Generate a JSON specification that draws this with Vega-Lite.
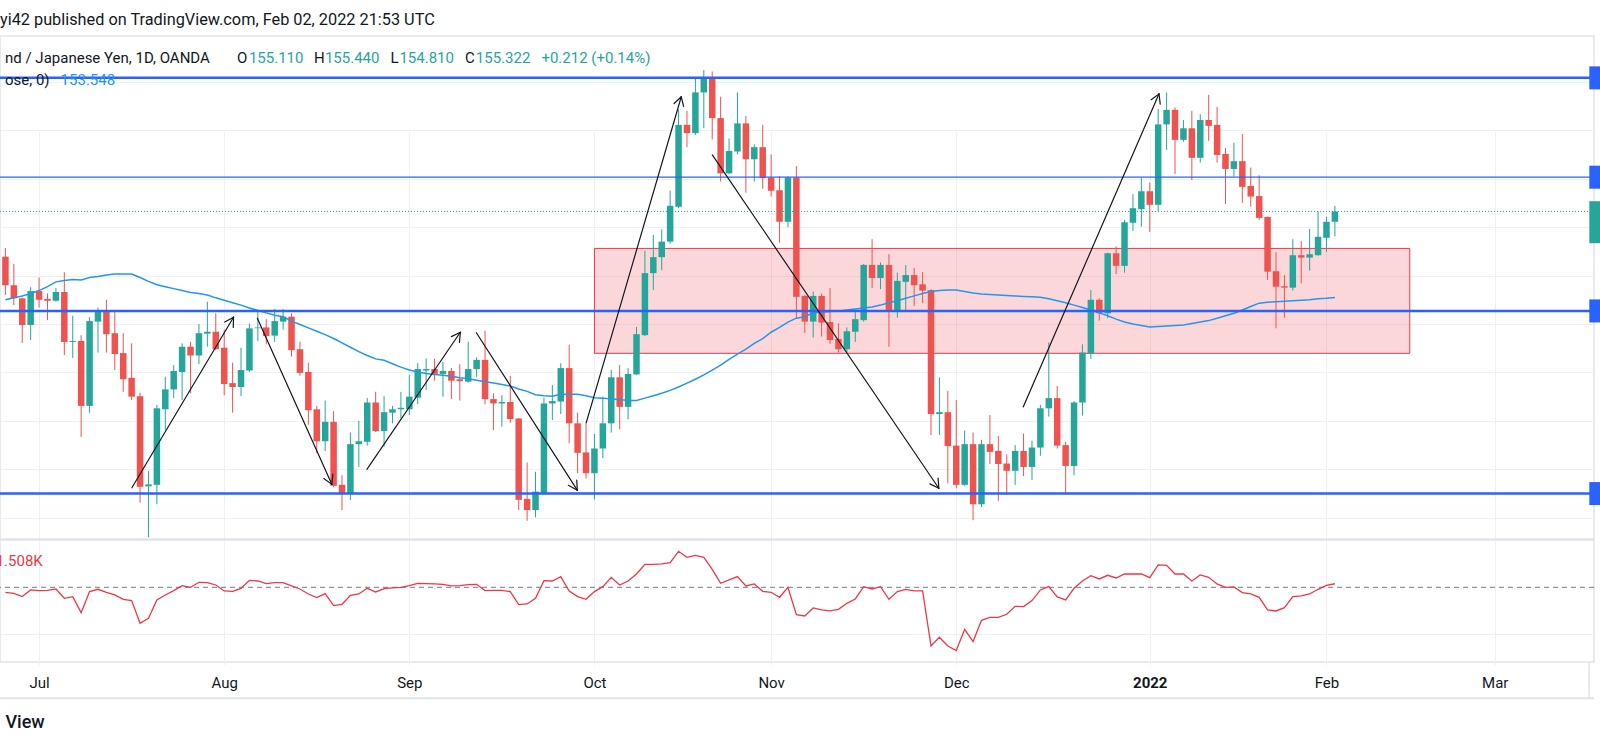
{
  "$schema": "https://vega.github.io/schema/vega-lite/v6.json",
  "width": 1594,
  "height": 626,
  "autosize": "none",
  "padding": {"left": 0, "top": 36, "right": 6, "bottom": 84},
  "background": "#ffffff",
  "title": {
    "text": "yi42 published on TradingView.com, Feb 02, 2022 21:53 UTC",
    "anchor": "start",
    "frame": "group",
    "offset": 0,
    "baseline": "middle",
    "font": "Roboto",
    "fontSize": 16.3,
    "fontWeight": "normal",
    "color": "#131722"
  },
  "datasets": {
    "candles": [
      {"i": -4, "o": 154.39, "h": 154.57, "l": 153.60, "c": 153.80, "ma": 153.50, "fi": -2.13},
      {"i": -3, "o": 153.80, "h": 154.24, "l": 153.39, "c": 153.53, "ma": 153.54, "fi": -2.55},
      {"i": -2, "o": 153.53, "h": 153.55, "l": 152.61, "c": 152.98, "ma": 153.58, "fi": -3.97},
      {"i": -1, "o": 152.98, "h": 153.76, "l": 152.67, "c": 153.68, "ma": 153.63, "fi": -1.13},
      {"i": 0, "o": 153.68, "h": 153.96, "l": 153.34, "c": 153.50, "ma": 153.69, "fi": -1.42},
      {"i": 1, "o": 153.52, "h": 153.63, "l": 153.08, "c": 153.48, "ma": 153.77, "fi": -1.28},
      {"i": 2, "o": 153.48, "h": 153.74, "l": 153.46, "c": 153.66, "ma": 153.87, "fi": -0.71},
      {"i": 3, "o": 153.66, "h": 154.07, "l": 152.36, "c": 152.63, "ma": 153.90, "fi": -4.68},
      {"i": 4, "o": 152.63, "h": 153.17, "l": 152.30, "c": 152.65, "ma": 153.92, "fi": -3.97},
      {"i": 5, "o": 152.65, "h": 152.77, "l": 150.67, "c": 151.31, "ma": 153.91, "fi": -10.78},
      {"i": 6, "o": 151.31, "h": 153.14, "l": 151.17, "c": 153.06, "ma": 153.96, "fi": -1.84},
      {"i": 7, "o": 153.05, "h": 153.34, "l": 152.41, "c": 153.25, "ma": 153.98, "fi": -0.85},
      {"i": 8, "o": 153.25, "h": 153.50, "l": 152.41, "c": 152.79, "ma": 154.01, "fi": -2.13},
      {"i": 9, "o": 152.81, "h": 153.29, "l": 152.05, "c": 152.38, "ma": 154.03, "fi": -3.26},
      {"i": 10, "o": 152.40, "h": 152.81, "l": 151.60, "c": 151.86, "ma": 154.03, "fi": -5.10},
      {"i": 11, "o": 151.89, "h": 152.60, "l": 151.43, "c": 151.50, "ma": 154.03, "fi": -5.67},
      {"i": 12, "o": 151.51, "h": 151.58, "l": 149.31, "c": 149.64, "ma": 153.96, "fi": -15.31},
      {"i": 13, "o": 149.65, "h": 149.97, "l": 148.60, "c": 149.69, "ma": 153.88, "fi": -13.19},
      {"i": 14, "o": 149.68, "h": 151.33, "l": 149.28, "c": 151.26, "ma": 153.81, "fi": -5.39},
      {"i": 15, "o": 151.24, "h": 151.91, "l": 150.81, "c": 151.65, "ma": 153.77, "fi": -3.26},
      {"i": 16, "o": 151.65, "h": 152.15, "l": 151.47, "c": 152.03, "ma": 153.73, "fi": -1.42},
      {"i": 17, "o": 152.01, "h": 152.60, "l": 151.43, "c": 152.53, "ma": 153.69, "fi": 0.71},
      {"i": 18, "o": 152.53, "h": 152.63, "l": 151.57, "c": 152.35, "ma": 153.65, "fi": 0},
      {"i": 19, "o": 152.35, "h": 153.00, "l": 152.17, "c": 152.81, "ma": 153.63, "fi": 2.13},
      {"i": 20, "o": 152.80, "h": 153.46, "l": 152.53, "c": 152.84, "ma": 153.60, "fi": 1.99},
      {"i": 21, "o": 152.84, "h": 153.22, "l": 152.46, "c": 152.48, "ma": 153.54, "fi": 0.99},
      {"i": 22, "o": 152.51, "h": 152.88, "l": 151.53, "c": 151.76, "ma": 153.49, "fi": -1.56},
      {"i": 23, "o": 151.78, "h": 152.20, "l": 151.17, "c": 151.70, "ma": 153.44, "fi": -1.70},
      {"i": 24, "o": 151.70, "h": 152.51, "l": 151.51, "c": 152.05, "ma": 153.39, "fi": -0.43},
      {"i": 25, "o": 152.04, "h": 153.01, "l": 152.01, "c": 152.91, "ma": 153.33, "fi": 2.98},
      {"i": 26, "o": 152.91, "h": 153.29, "l": 152.65, "c": 152.93, "ma": 153.28, "fi": 2.69},
      {"i": 27, "o": 152.93, "h": 153.10, "l": 152.58, "c": 152.75, "ma": 153.23, "fi": 1.56},
      {"i": 28, "o": 152.76, "h": 153.31, "l": 152.63, "c": 153.06, "ma": 153.18, "fi": 1.99},
      {"i": 29, "o": 153.05, "h": 153.31, "l": 152.88, "c": 153.15, "ma": 153.15, "fi": 1.99},
      {"i": 30, "o": 153.15, "h": 153.22, "l": 152.33, "c": 152.46, "ma": 153.06, "fi": 0.57},
      {"i": 31, "o": 152.48, "h": 152.63, "l": 151.93, "c": 151.99, "ma": 152.99, "fi": -0.71},
      {"i": 32, "o": 152.01, "h": 152.20, "l": 150.92, "c": 151.22, "ma": 152.92, "fi": -2.84},
      {"i": 33, "o": 151.24, "h": 151.31, "l": 150.34, "c": 150.58, "ma": 152.85, "fi": -4.40},
      {"i": 34, "o": 150.58, "h": 151.42, "l": 150.38, "c": 150.98, "ma": 152.78, "fi": -2.69},
      {"i": 35, "o": 150.98, "h": 151.20, "l": 149.63, "c": 149.66, "ma": 152.70, "fi": -7.80},
      {"i": 36, "o": 149.68, "h": 149.88, "l": 149.16, "c": 149.51, "ma": 152.61, "fi": -7.23},
      {"i": 37, "o": 149.51, "h": 150.76, "l": 149.37, "c": 150.52, "ma": 152.52, "fi": -3.40},
      {"i": 38, "o": 150.52, "h": 151.00, "l": 150.05, "c": 150.58, "ma": 152.43, "fi": -2.84},
      {"i": 39, "o": 150.57, "h": 151.47, "l": 150.49, "c": 151.38, "ma": 152.35, "fi": -0.43},
      {"i": 40, "o": 151.38, "h": 151.60, "l": 150.77, "c": 150.79, "ma": 152.28, "fi": -1.99},
      {"i": 41, "o": 150.79, "h": 151.51, "l": 150.47, "c": 151.18, "ma": 152.25, "fi": -0.57},
      {"i": 42, "o": 151.17, "h": 151.31, "l": 150.95, "c": 151.24, "ma": 152.18, "fi": -0.28},
      {"i": 43, "o": 151.24, "h": 151.60, "l": 151.05, "c": 151.27, "ma": 152.11, "fi": 0},
      {"i": 44, "o": 151.24, "h": 151.95, "l": 151.12, "c": 151.50, "ma": 152.05, "fi": 0.71},
      {"i": 45, "o": 151.48, "h": 152.19, "l": 151.35, "c": 152.07, "ma": 152.01, "fi": 1.70},
      {"i": 46, "o": 152.04, "h": 152.29, "l": 151.64, "c": 152.07, "ma": 151.98, "fi": 1.56},
      {"i": 47, "o": 152.07, "h": 152.28, "l": 151.83, "c": 151.97, "ma": 151.96, "fi": 1.42},
      {"i": 48, "o": 151.97, "h": 152.22, "l": 151.50, "c": 152.03, "ma": 151.94, "fi": 1.28},
      {"i": 49, "o": 152.03, "h": 152.09, "l": 151.45, "c": 151.83, "ma": 151.92, "fi": 0.57},
      {"i": 50, "o": 151.86, "h": 152.17, "l": 151.42, "c": 151.82, "ma": 151.89, "fi": 0.71},
      {"i": 51, "o": 151.81, "h": 152.63, "l": 151.79, "c": 152.07, "ma": 151.87, "fi": 1.13},
      {"i": 52, "o": 152.07, "h": 152.31, "l": 151.91, "c": 152.26, "ma": 151.84, "fi": 1.28},
      {"i": 53, "o": 152.26, "h": 152.86, "l": 151.34, "c": 151.45, "ma": 151.81, "fi": -1.42},
      {"i": 54, "o": 151.45, "h": 151.57, "l": 150.81, "c": 151.36, "ma": 151.78, "fi": -1.28},
      {"i": 55, "o": 151.36, "h": 151.53, "l": 150.88, "c": 151.39, "ma": 151.75, "fi": -1.28},
      {"i": 56, "o": 151.39, "h": 151.93, "l": 150.96, "c": 151.04, "ma": 151.72, "fi": -1.84},
      {"i": 57, "o": 151.05, "h": 151.06, "l": 149.16, "c": 149.37, "ma": 151.66, "fi": -7.37},
      {"i": 58, "o": 149.39, "h": 150.14, "l": 148.94, "c": 149.16, "ma": 151.61, "fi": -7.09},
      {"i": 59, "o": 149.16, "h": 149.95, "l": 149.01, "c": 149.54, "ma": 151.54, "fi": -4.68},
      {"i": 60, "o": 149.51, "h": 151.48, "l": 149.49, "c": 151.36, "ma": 151.52, "fi": 2.84},
      {"i": 61, "o": 151.36, "h": 151.74, "l": 151.02, "c": 151.41, "ma": 151.51, "fi": 2.69},
      {"i": 62, "o": 151.40, "h": 152.19, "l": 151.14, "c": 152.09, "ma": 151.55, "fi": 4.54},
      {"i": 63, "o": 152.09, "h": 152.57, "l": 150.54, "c": 150.95, "ma": 151.55, "fi": -1.56},
      {"i": 64, "o": 150.95, "h": 151.17, "l": 149.92, "c": 150.34, "ma": 151.55, "fi": -3.97},
      {"i": 65, "o": 150.35, "h": 150.95, "l": 149.81, "c": 149.92, "ma": 151.52, "fi": -5.10},
      {"i": 66, "o": 149.92, "h": 150.73, "l": 149.38, "c": 150.43, "ma": 151.48, "fi": -1.84},
      {"i": 67, "o": 150.43, "h": 151.50, "l": 150.23, "c": 150.95, "ma": 151.47, "fi": 0.28},
      {"i": 68, "o": 150.95, "h": 152.05, "l": 150.76, "c": 151.90, "ma": 151.45, "fi": 4.25},
      {"i": 69, "o": 151.90, "h": 152.15, "l": 150.83, "c": 151.29, "ma": 151.44, "fi": 0.99},
      {"i": 70, "o": 151.29, "h": 152.09, "l": 151.03, "c": 151.97, "ma": 151.42, "fi": 2.69},
      {"i": 71, "o": 151.96, "h": 152.94, "l": 151.95, "c": 152.79, "ma": 151.42, "fi": 5.67},
      {"i": 72, "o": 152.77, "h": 154.51, "l": 152.75, "c": 154.05, "ma": 151.47, "fi": 9.78},
      {"i": 73, "o": 154.05, "h": 154.84, "l": 153.70, "c": 154.38, "ma": 151.52, "fi": 9.78},
      {"i": 74, "o": 154.38, "h": 154.95, "l": 154.11, "c": 154.70, "ma": 151.57, "fi": 9.93},
      {"i": 75, "o": 154.70, "h": 155.75, "l": 154.66, "c": 155.44, "ma": 151.63, "fi": 10.49},
      {"i": 76, "o": 155.42, "h": 157.43, "l": 155.39, "c": 157.11, "ma": 151.70, "fi": 15.31},
      {"i": 77, "o": 157.11, "h": 157.40, "l": 156.65, "c": 156.94, "ma": 151.78, "fi": 12.76},
      {"i": 78, "o": 156.94, "h": 158.07, "l": 156.90, "c": 157.78, "ma": 151.86, "fi": 13.61},
      {"i": 79, "o": 157.78, "h": 158.24, "l": 157.04, "c": 158.07, "ma": 151.95, "fi": 12.76},
      {"i": 80, "o": 158.07, "h": 158.21, "l": 156.81, "c": 157.25, "ma": 152.05, "fi": 7.66},
      {"i": 81, "o": 157.25, "h": 157.69, "l": 155.94, "c": 156.11, "ma": 152.15, "fi": 1.70},
      {"i": 82, "o": 156.11, "h": 156.83, "l": 156.09, "c": 156.57, "ma": 152.27, "fi": 3.12},
      {"i": 83, "o": 156.56, "h": 157.78, "l": 156.50, "c": 157.14, "ma": 152.38, "fi": 4.54},
      {"i": 84, "o": 157.14, "h": 157.29, "l": 155.71, "c": 156.40, "ma": 152.48, "fi": 0.57},
      {"i": 85, "o": 156.40, "h": 156.71, "l": 155.94, "c": 156.65, "ma": 152.60, "fi": 1.42},
      {"i": 86, "o": 156.65, "h": 157.11, "l": 155.79, "c": 156.01, "ma": 152.70, "fi": -1.70},
      {"i": 87, "o": 156.02, "h": 156.50, "l": 155.63, "c": 155.75, "ma": 152.83, "fi": -2.13},
      {"i": 88, "o": 155.76, "h": 156.05, "l": 154.68, "c": 155.11, "ma": 152.93, "fi": -4.25},
      {"i": 89, "o": 155.11, "h": 156.05, "l": 155.00, "c": 156.02, "ma": 153.04, "fi": 0},
      {"i": 90, "o": 156.02, "h": 156.26, "l": 153.12, "c": 153.56, "ma": 153.12, "fi": -11.63},
      {"i": 91, "o": 153.58, "h": 153.60, "l": 152.82, "c": 153.05, "ma": 153.15, "fi": -12.19},
      {"i": 92, "o": 153.05, "h": 153.67, "l": 152.72, "c": 153.58, "ma": 153.23, "fi": -8.79},
      {"i": 93, "o": 153.58, "h": 153.63, "l": 152.74, "c": 153.03, "ma": 153.24, "fi": -9.64},
      {"i": 94, "o": 153.04, "h": 153.74, "l": 152.59, "c": 152.67, "ma": 153.26, "fi": -10.07},
      {"i": 95, "o": 152.69, "h": 153.01, "l": 152.41, "c": 152.48, "ma": 153.27, "fi": -9.36},
      {"i": 96, "o": 152.48, "h": 152.93, "l": 152.40, "c": 152.85, "ma": 153.29, "fi": -6.81},
      {"i": 97, "o": 152.84, "h": 153.29, "l": 152.63, "c": 153.10, "ma": 153.31, "fi": -4.96},
      {"i": 98, "o": 153.08, "h": 154.24, "l": 153.05, "c": 154.22, "ma": 153.33, "fi": 0.28},
      {"i": 99, "o": 154.22, "h": 154.75, "l": 153.74, "c": 153.95, "ma": 153.35, "fi": -0.71},
      {"i": 100, "o": 153.95, "h": 154.27, "l": 153.72, "c": 154.22, "ma": 153.39, "fi": 0.28},
      {"i": 101, "o": 154.22, "h": 154.44, "l": 152.53, "c": 153.29, "ma": 153.44, "fi": -5.10},
      {"i": 102, "o": 153.29, "h": 154.06, "l": 153.13, "c": 153.89, "ma": 153.48, "fi": -1.84},
      {"i": 103, "o": 153.87, "h": 154.22, "l": 153.29, "c": 154.01, "ma": 153.53, "fi": -0.85},
      {"i": 104, "o": 154.01, "h": 154.16, "l": 153.37, "c": 153.80, "ma": 153.58, "fi": -1.56},
      {"i": 105, "o": 153.82, "h": 154.07, "l": 153.43, "c": 153.69, "ma": 153.63, "fi": -1.56},
      {"i": 106, "o": 153.70, "h": 153.72, "l": 150.71, "c": 151.14, "ma": 153.67, "fi": -24.96},
      {"i": 107, "o": 151.14, "h": 151.90, "l": 150.71, "c": 151.18, "ma": 153.69, "fi": -21.27},
      {"i": 108, "o": 151.18, "h": 151.62, "l": 149.72, "c": 150.48, "ma": 153.70, "fi": -24.96},
      {"i": 109, "o": 150.49, "h": 151.43, "l": 149.61, "c": 149.68, "ma": 153.70, "fi": -26.94},
      {"i": 110, "o": 149.68, "h": 150.80, "l": 149.66, "c": 150.52, "ma": 153.67, "fi": -17.87},
      {"i": 111, "o": 150.52, "h": 150.76, "l": 148.95, "c": 149.28, "ma": 153.64, "fi": -23.11},
      {"i": 112, "o": 149.28, "h": 150.61, "l": 149.22, "c": 150.52, "ma": 153.62, "fi": -14.04},
      {"i": 113, "o": 150.52, "h": 151.12, "l": 150.11, "c": 150.36, "ma": 153.61, "fi": -12.76},
      {"i": 114, "o": 150.38, "h": 150.69, "l": 149.35, "c": 150.11, "ma": 153.60, "fi": -12.76},
      {"i": 115, "o": 150.12, "h": 150.31, "l": 149.47, "c": 149.97, "ma": 153.59, "fi": -11.49},
      {"i": 116, "o": 149.97, "h": 150.50, "l": 149.68, "c": 150.38, "ma": 153.58, "fi": -8.08},
      {"i": 117, "o": 150.38, "h": 150.74, "l": 149.86, "c": 150.05, "ma": 153.57, "fi": -8.22},
      {"i": 118, "o": 150.05, "h": 150.59, "l": 149.78, "c": 150.45, "ma": 153.56, "fi": -5.67},
      {"i": 119, "o": 150.45, "h": 151.33, "l": 150.28, "c": 151.26, "ma": 153.55, "fi": -1.13},
      {"i": 120, "o": 151.26, "h": 152.62, "l": 151.09, "c": 151.47, "ma": 153.52, "fi": 0.28},
      {"i": 121, "o": 151.47, "h": 151.72, "l": 150.43, "c": 150.49, "ma": 153.48, "fi": -4.11},
      {"i": 122, "o": 150.50, "h": 150.57, "l": 149.52, "c": 150.07, "ma": 153.44, "fi": -5.39},
      {"i": 123, "o": 150.07, "h": 151.41, "l": 149.88, "c": 151.38, "ma": 153.39, "fi": -0.43},
      {"i": 124, "o": 151.38, "h": 152.58, "l": 151.11, "c": 152.41, "ma": 153.34, "fi": 2.69},
      {"i": 125, "o": 152.39, "h": 153.70, "l": 152.28, "c": 153.50, "ma": 153.29, "fi": 4.96},
      {"i": 126, "o": 153.50, "h": 153.53, "l": 153.07, "c": 153.22, "ma": 153.23, "fi": 3.55},
      {"i": 127, "o": 153.22, "h": 154.47, "l": 153.12, "c": 154.46, "ma": 153.17, "fi": 5.10},
      {"i": 128, "o": 154.46, "h": 154.60, "l": 154.03, "c": 154.20, "ma": 153.10, "fi": 3.97},
      {"i": 129, "o": 154.20, "h": 155.15, "l": 154.06, "c": 155.10, "ma": 153.04, "fi": 5.67},
      {"i": 130, "o": 155.09, "h": 155.68, "l": 154.92, "c": 155.39, "ma": 153.00, "fi": 5.67},
      {"i": 131, "o": 155.37, "h": 156.02, "l": 155.01, "c": 155.74, "ma": 152.97, "fi": 5.67},
      {"i": 132, "o": 155.74, "h": 155.92, "l": 154.90, "c": 155.46, "ma": 152.94, "fi": 4.11},
      {"i": 133, "o": 155.46, "h": 157.44, "l": 155.33, "c": 157.12, "ma": 152.95, "fi": 9.50},
      {"i": 134, "o": 157.12, "h": 157.78, "l": 156.59, "c": 157.42, "ma": 152.96, "fi": 9.36},
      {"i": 135, "o": 157.42, "h": 157.47, "l": 156.10, "c": 156.80, "ma": 152.97, "fi": 5.67},
      {"i": 136, "o": 156.80, "h": 157.21, "l": 156.76, "c": 157.04, "ma": 152.98, "fi": 5.67},
      {"i": 137, "o": 157.04, "h": 157.40, "l": 155.97, "c": 156.43, "ma": 153.01, "fi": 2.69},
      {"i": 138, "o": 156.43, "h": 157.33, "l": 156.33, "c": 157.21, "ma": 153.04, "fi": 5.25},
      {"i": 139, "o": 157.21, "h": 157.73, "l": 156.78, "c": 157.09, "ma": 153.07, "fi": 4.25},
      {"i": 140, "o": 157.11, "h": 157.48, "l": 156.33, "c": 156.49, "ma": 153.12, "fi": 1.42},
      {"i": 141, "o": 156.51, "h": 156.63, "l": 155.48, "c": 156.20, "ma": 153.17, "fi": 0},
      {"i": 142, "o": 156.20, "h": 156.74, "l": 156.05, "c": 156.36, "ma": 153.22, "fi": 0.14},
      {"i": 143, "o": 156.36, "h": 156.92, "l": 155.50, "c": 155.83, "ma": 153.29, "fi": -2.27},
      {"i": 144, "o": 155.85, "h": 156.23, "l": 155.42, "c": 155.63, "ma": 153.36, "fi": -2.84},
      {"i": 145, "o": 155.64, "h": 156.07, "l": 155.15, "c": 155.19, "ma": 153.43, "fi": -4.25},
      {"i": 146, "o": 155.21, "h": 155.22, "l": 153.91, "c": 154.08, "ma": 153.45, "fi": -9.64},
      {"i": 147, "o": 154.09, "h": 154.48, "l": 152.91, "c": 153.77, "ma": 153.46, "fi": -10.07},
      {"i": 148, "o": 153.78, "h": 154.01, "l": 153.13, "c": 153.75, "ma": 153.47, "fi": -8.65},
      {"i": 149, "o": 153.75, "h": 154.75, "l": 153.69, "c": 154.42, "ma": 153.48, "fi": -3.97},
      {"i": 150, "o": 154.42, "h": 154.71, "l": 153.84, "c": 154.37, "ma": 153.49, "fi": -3.69},
      {"i": 151, "o": 154.37, "h": 154.96, "l": 154.10, "c": 154.44, "ma": 153.50, "fi": -2.84},
      {"i": 152, "o": 154.42, "h": 155.33, "l": 154.41, "c": 154.80, "ma": 153.52, "fi": -0.85},
      {"i": 153, "o": 154.78, "h": 155.21, "l": 154.49, "c": 155.11, "ma": 153.53, "fi": 0.85},
      {"i": 154, "o": 155.11, "h": 155.44, "l": 154.81, "c": 155.322, "ma": 153.548, "fi": 1.508}
    ],
    "levels": [
      {"level": "top", "p": 158.08},
      {"level": "minor", "p": 156.03},
      {"level": "mid", "p": 153.27},
      {"level": "low", "p": 149.50}
    ],
    "zone": [
      {"i": 66.0, "i2": 162.9, "p": 154.56, "p2": 152.395}
    ],
    "arrows": [
      {"arrow": "a", "i": 11.03, "p": 149.62, "i2": 23.11, "p2": 153.14},
      {"arrow": "a", "i": 22.07, "p": 153.04, "i2": 23.11, "p2": 153.14},
      {"arrow": "a", "i": 23.08, "p": 152.93, "i2": 23.11, "p2": 153.14},
      {"arrow": "b", "i": 25.94, "p": 153.12, "i2": 34.79, "p2": 149.69},
      {"arrow": "b", "i": 34.91, "p": 149.90, "i2": 34.79, "p2": 149.69},
      {"arrow": "b", "i": 33.84, "p": 149.81, "i2": 34.79, "p2": 149.69},
      {"arrow": "c", "i": 38.96, "p": 150.00, "i2": 50.06, "p2": 152.83},
      {"arrow": "c", "i": 49.00, "p": 152.74, "i2": 50.06, "p2": 152.83},
      {"arrow": "c", "i": 49.96, "p": 152.62, "i2": 50.06, "p2": 152.83},
      {"arrow": "d", "i": 51.97, "p": 152.82, "i2": 63.96, "p2": 149.57},
      {"arrow": "d", "i": 63.90, "p": 149.78, "i2": 63.96, "p2": 149.57},
      {"arrow": "d", "i": 62.90, "p": 149.67, "i2": 63.96, "p2": 149.57},
      {"arrow": "e", "i": 65.02, "p": 150.96, "i2": 76.32, "p2": 157.69},
      {"arrow": "e", "i": 75.47, "p": 157.55, "i2": 76.32, "p2": 157.69},
      {"arrow": "e", "i": 76.60, "p": 157.49, "i2": 76.32, "p2": 157.69},
      {"arrow": "f", "i": 80.01, "p": 156.49, "i2": 106.93, "p2": 149.61},
      {"arrow": "f", "i": 106.84, "p": 149.82, "i2": 106.93, "p2": 149.61},
      {"arrow": "f", "i": 105.87, "p": 149.70, "i2": 106.93, "p2": 149.61},
      {"arrow": "g", "i": 116.97, "p": 151.29, "i2": 133.10, "p2": 157.75},
      {"arrow": "g", "i": 132.16, "p": 157.63, "i2": 133.10, "p2": 157.75},
      {"arrow": "g", "i": 133.24, "p": 157.54, "i2": 133.10, "p2": 157.75}
    ],
    "legend": [
      {"text": "nd / Japanese Yen, 1D, OANDA", "i": -4.05, "p": 158.5, "role": "name"},
      {"text": "O", "i": 23.52, "p": 158.5, "role": "name"},
      {"text": "155.110", "i": 24.94, "p": 158.5, "role": "value"},
      {"text": "H", "i": 32.67, "p": 158.5, "role": "name"},
      {"text": "155.440", "i": 33.97, "p": 158.5, "role": "value"},
      {"text": "L", "i": 41.76, "p": 158.5, "role": "name"},
      {"text": "154.810", "i": 42.82, "p": 158.5, "role": "value"},
      {"text": "C", "i": 50.61, "p": 158.5, "role": "name"},
      {"text": "155.322", "i": 51.91, "p": 158.5, "role": "value"},
      {"text": "+0.212 (+0.14%)", "i": 59.70, "p": 158.5, "role": "value"},
      {"text": "ose, 0)", "i": -4.05, "p": 158.04, "role": "name"},
      {"text": "153.548", "i": 2.56, "p": 158.04, "role": "ma"}
    ]
  },
  "resolve": {"scale": {"y": "independent"}},
  "layer": [
    {
      "layer": [
        {
          "data": {"name": "zone"},
          "mark": {"type": "rect", "fill": "#f23645", "fillOpacity": 0.2, "stroke": "#f23645", "strokeWidth": 1},
          "encoding": {
            "x": {"field": "i", "type": "quantitative", "scale": {"domain": [-4.05, 184.2], "nice": false, "zero": false},
              "axis": {
                "orient": "bottom",
                "values": [0, 22, 44, 66, 87, 109, 132, 153, 173],
                "labelExpr": "datum.value == 0 ? 'Jul' : datum.value == 22 ? 'Aug' : datum.value == 44 ? 'Sep' : datum.value == 66 ? 'Oct' : datum.value == 87 ? 'Nov' : datum.value == 109 ? 'Dec' : datum.value == 132 ? '2022' : datum.value == 153 ? 'Feb' : 'Mar'",
                "grid": true, "gridColor": "#eef0f4", "ticks": false, "domain": false, "title": null,
                "labelPadding": 20, "labelBaseline": "middle", "labelFont": "Roboto", "labelFontSize": 15, "labelColor": "#131722",
                "labelFontWeight": {"condition": {"test": "datum.value == 132", "value": "bold"}, "value": "normal"},
                "labelFlush": false, "labelOverlap": false
              }},
            "x2": {"field": "i2"},
            "y": {"field": "p", "type": "quantitative", "scale": {"domain": [148, 159], "range": [530.25, -2.7], "nice": false, "zero": false},
              "axis": {"orient": "right", "values": [149, 150, 151, 152, 153, 154, 155, 156, 157, 158], "grid": true, "gridColor": "#eef0f4", "labels": false, "ticks": false, "domain": false, "title": null}},
            "y2": {"field": "p2"}
          }
        },
        {
          "data": {"name": "candles"},
          "mark": {"type": "rule", "strokeWidth": 1},
          "encoding": {
            "x": {"field": "i", "type": "quantitative", "scale": {"domain": [-4.05, 184.2], "nice": false, "zero": false}},
            "y": {"field": "l", "type": "quantitative", "scale": {"domain": [148, 159], "range": [530.25, -2.7], "nice": false, "zero": false}},
            "y2": {"field": "h"},
            "color": {"condition": {"test": "datum.c >= datum.o", "value": "#26a69a"}, "value": "#ef5350"}
          }
        },
        {
          "data": {"name": "candles"},
          "mark": {"type": "bar", "width": 6.5},
          "encoding": {
            "x": {"field": "i", "type": "quantitative", "scale": {"domain": [-4.05, 184.2], "nice": false, "zero": false}},
            "y": {"field": "o", "type": "quantitative", "scale": {"domain": [148, 159], "range": [530.25, -2.7], "nice": false, "zero": false}},
            "y2": {"field": "c"},
            "color": {"condition": {"test": "datum.c >= datum.o", "value": "#26a69a"}, "value": "#ef5350"}
          }
        },
        {
          "data": {"name": "candles"},
          "mark": {"type": "line", "color": "#2196f3", "strokeWidth": 1.5},
          "encoding": {
            "x": {"field": "i", "type": "quantitative", "scale": {"domain": [-4.05, 184.2], "nice": false, "zero": false}},
            "y": {"field": "ma", "type": "quantitative", "scale": {"domain": [148, 159], "range": [530.25, -2.7], "nice": false, "zero": false}}
          }
        },
        {
          "data": {"name": "candles"},
          "transform": [{"filter": "datum.i == 154"}],
          "mark": {"type": "rule", "color": "#26a69a", "strokeWidth": 1, "strokeDash": [1, 2]},
          "encoding": {
            "y": {"field": "c", "type": "quantitative", "scale": {"domain": [148, 159], "range": [530.25, -2.7], "nice": false, "zero": false}}
          }
        },
        {
          "data": {"name": "levels"},
          "transform": [{"filter": "datum.level != 'minor'"}],
          "mark": {"type": "rule", "color": "#2962ff", "strokeWidth": 2.5},
          "encoding": {
            "y": {"field": "p", "type": "quantitative", "scale": {"domain": [148, 159], "range": [530.25, -2.7], "nice": false, "zero": false}}
          }
        },
        {
          "data": {"name": "levels"},
          "transform": [{"filter": "datum.level == 'minor'"}],
          "mark": {"type": "rule", "color": "#2962ff", "strokeWidth": 1.2},
          "encoding": {
            "y": {"field": "p", "type": "quantitative", "scale": {"domain": [148, 159], "range": [530.25, -2.7], "nice": false, "zero": false}}
          }
        },
        {
          "data": {"name": "arrows"},
          "mark": {"type": "rule", "color": "#131722", "strokeWidth": 1.2, "strokeCap": "round"},
          "encoding": {
            "x": {"field": "i", "type": "quantitative", "scale": {"domain": [-4.05, 184.2], "nice": false, "zero": false}},
            "x2": {"field": "i2"},
            "y": {"field": "p", "type": "quantitative", "scale": {"domain": [148, 159], "range": [530.25, -2.7], "nice": false, "zero": false}},
            "y2": {"field": "p2"}
          }
        },
        {
          "data": {"name": "levels"},
          "mark": {"type": "tick", "orient": "vertical", "size": 23, "thickness": 12, "color": "#2962ff", "opacity": 1},
          "encoding": {
            "x": {"datum": 184.95, "type": "quantitative", "scale": {"domain": [-4.05, 184.2], "nice": false, "zero": false}},
            "y": {"field": "p", "type": "quantitative", "scale": {"domain": [148, 159], "range": [530.25, -2.7], "nice": false, "zero": false}}
          }
        },
        {
          "data": {"name": "candles"},
          "transform": [{"filter": "datum.i == 154"}],
          "mark": {"type": "tick", "orient": "vertical", "size": 42, "thickness": 12, "yOffset": 10.7, "color": "#26a69a", "opacity": 1},
          "encoding": {
            "x": {"datum": 184.95, "type": "quantitative", "scale": {"domain": [-4.05, 184.2], "nice": false, "zero": false}},
            "y": {"field": "c", "type": "quantitative", "scale": {"domain": [148, 159], "range": [530.25, -2.7], "nice": false, "zero": false}}
          }
        },
        {
          "data": {"name": "legend"},
          "mark": {"type": "text", "align": "left", "baseline": "middle", "font": "Roboto", "fontSize": 15},
          "encoding": {
            "x": {"field": "i", "type": "quantitative", "scale": {"domain": [-4.05, 184.2], "nice": false, "zero": false}},
            "y": {"field": "p", "type": "quantitative", "scale": {"domain": [148, 159], "range": [530.25, -2.7], "nice": false, "zero": false}},
            "text": {"field": "text"},
            "color": {"field": "role", "type": "nominal", "scale": {"domain": ["name", "value", "ma"], "range": ["#131722", "#26a69a", "#2196f3"]}, "legend": null}
          }
        }
      ]
    },
    {
      "layer": [
        {
          "data": {"values": [{}]},
          "mark": {"type": "rule", "color": "#e0e3eb", "strokeWidth": 2.5},
          "encoding": {
            "y": {"datum": 20.34, "type": "quantitative", "scale": {"domain": [-30, 20], "range": [621.8, 504.3], "nice": false, "zero": false},
              "axis": {"orient": "right", "values": [-20], "grid": true, "gridColor": "#eef0f4", "labels": false, "ticks": false, "domain": false, "title": null}}
          }
        },
        {
          "data": {"values": [{}]},
          "mark": {"type": "rule", "color": "#787b86", "strokeWidth": 1, "strokeDash": [5, 4]},
          "encoding": {
            "y": {"datum": 0, "type": "quantitative", "scale": {"domain": [-30, 20], "range": [621.8, 504.3], "nice": false, "zero": false}}
          }
        },
        {
          "data": {"name": "candles"},
          "mark": {"type": "line", "color": "#f23645", "strokeWidth": 1.3},
          "encoding": {
            "x": {"field": "i", "type": "quantitative", "scale": {"domain": [-4.05, 184.2], "nice": false, "zero": false}},
            "y": {"field": "fi", "type": "quantitative", "scale": {"domain": [-30, 20], "range": [621.8, 504.3], "nice": false, "zero": false}}
          }
        },
        {
          "data": {"values": [{"text": "1.508K", "i": 0.44, "k": 11.32}]},
          "mark": {"type": "text", "align": "right", "baseline": "middle", "font": "Roboto", "fontSize": 15, "color": "#f23645"},
          "encoding": {
            "x": {"field": "i", "type": "quantitative", "scale": {"domain": [-4.05, 184.2], "nice": false, "zero": false}},
            "y": {"field": "k", "type": "quantitative", "scale": {"domain": [-30, 20], "range": [621.8, 504.3], "nice": false, "zero": false}},
            "text": {"field": "text"}
          }
        },
        {
          "data": {"values": [{"text": "View", "i": -4.0, "k": -57.74}]},
          "mark": {"type": "text", "align": "left", "baseline": "middle", "font": "Roboto", "fontSize": 18, "fontWeight": 500, "color": "#131722"},
          "encoding": {
            "x": {"field": "i", "type": "quantitative", "scale": {"domain": [-4.05, 184.2], "nice": false, "zero": false}},
            "y": {"field": "k", "type": "quantitative", "scale": {"domain": [-30, 20], "range": [621.8, 504.3], "nice": false, "zero": false}},
            "text": {"field": "text"}
          }
        },
        {
          "data": {"values": [{}]},
          "mark": {"type": "rule", "color": "#e0e3eb", "strokeWidth": 2},
          "encoding": {
            "y": {"datum": -47.23, "type": "quantitative", "scale": {"domain": [-30, 20], "range": [621.8, 504.3], "nice": false, "zero": false}}
          }
        },
        {
          "data": {"values": [{}]},
          "mark": {"type": "rule", "color": "#e0e3eb", "strokeWidth": 1.5},
          "encoding": {
            "x": {"datum": 184.2, "type": "quantitative", "scale": {"domain": [-4.05, 184.2], "nice": false, "zero": false}},
            "y": {"datum": -31.8, "type": "quantitative", "scale": {"domain": [-30, 20], "range": [621.8, 504.3], "nice": false, "zero": false}},
            "y2": {"datum": -47.23}
          }
        }
      ]
    }
  ],
  "config": {
    "view": {"stroke": "#e0e3eb", "strokeWidth": 1.5},
    "font": "Roboto"
  }
}
